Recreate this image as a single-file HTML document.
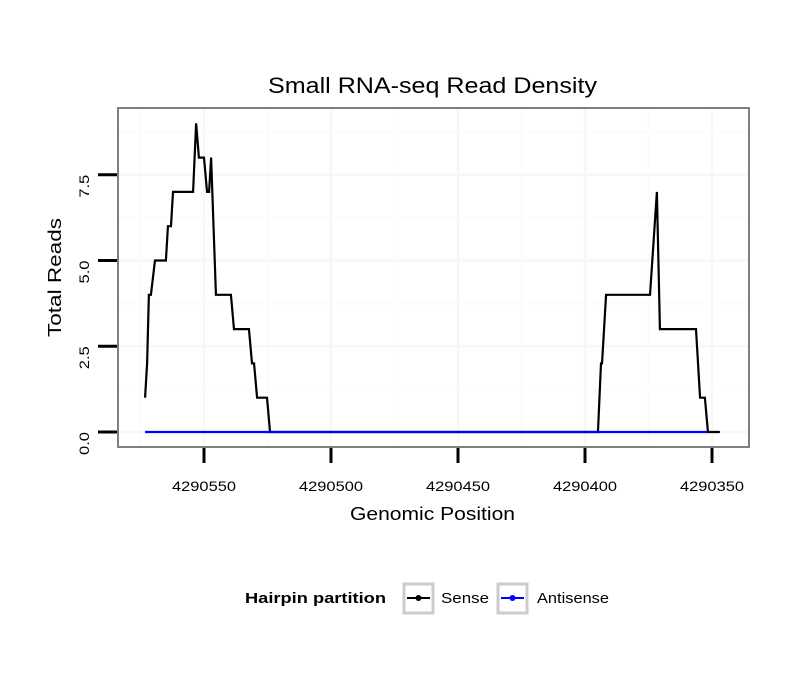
<!DOCTYPE html>
<html><head><meta charset="utf-8"><style>
body{margin:0;background:#fff;font-family:"Liberation Sans",sans-serif;}
</style></head><body>
<svg id="chart" width="810" height="690" xmlns="http://www.w3.org/2000/svg">
<rect width="810" height="690" fill="#fff"/>
<text x="268" y="93" font-size="22" textLength="329" lengthAdjust="spacingAndGlyphs">Small RNA-seq Read Density</text>
<g id="grid"></g>
<g id="series"></g>
<rect x="118" y="108" width="631" height="339" fill="none" stroke="#7f7f7f" stroke-width="2"/>
<g id="axes"></g>
<text x="350" y="520" font-size="18" textLength="165" lengthAdjust="spacingAndGlyphs">Genomic Position</text>
<text transform="translate(61,337) rotate(-90)" font-size="18" textLength="119" lengthAdjust="spacingAndGlyphs">Total Reads</text>
<g>
<text x="245" y="603" font-size="15" font-weight="bold" textLength="141" lengthAdjust="spacingAndGlyphs">Hairpin partition</text>
<g>
<rect x="404" y="584" width="29" height="29" fill="#fff" stroke="#ccc" stroke-width="3"/>
<line x1="407" y1="598" x2="430" y2="598" stroke="#000" stroke-width="2"/>
<circle cx="418.5" cy="598" r="3" fill="#000"/>
<text x="441" y="603" font-size="15" textLength="48" lengthAdjust="spacingAndGlyphs">Sense</text></g>
<g>
<rect x="498" y="584" width="29" height="29" fill="#fff" stroke="#ccc" stroke-width="3"/>
<line x1="501" y1="598" x2="524" y2="598" stroke="#00f" stroke-width="2"/>
<circle cx="512.5" cy="598" r="3" fill="#00f"/>
<text x="537" y="603" font-size="15" textLength="72" lengthAdjust="spacingAndGlyphs">Antisense</text></g>
</g>
</svg>
<script>
const xTicks=[4290550,4290500,4290450,4290400,4290350];
const yTicks=[0,2.5,5.0,7.5];
const yTickLabels=["0.0","2.5","5.0","7.5"];
const senseX=[4290573.2,4290572.4,4290571.7,4290570.9,4290569.3,4290565.0,4290564.2,4290563.0,4290562.2,4290554.3,4290553.1,4290552.0,4290550,4290548.8,4290548,4290547.2,4290545.3,4290539.4,4290538.2,4290532.3,4290531.1,4290530.3,4290529.1,4290525.2,4290524,4290394.9,4290393.7,4290393.3,4290391.7,4290374.4,4290371.7,4290370.5,4290356.3,4290354.7,4290352.8,4290351.6,4290346.9];
const senseY=[1,2,4,4,5,5,6,6,7,7,9,8,8,7,7,8,4,4,3,3,2,2,1,1,0,0,2,2,4,4,7,3,3,1,1,0,0];
const antisenseX=[4290573.2,4290351.6];
const antisenseY=[0,0];
const NS="http://www.w3.org/2000/svg";
const xs=v=>204+(4290550-v)*2.54;
const ys=v=>432-v*34.3;
function mk(t,a,p){const e=document.createElementNS(NS,t);for(const k in a)e.setAttribute(k,a[k]);p.appendChild(e);return e;}
const grid=document.getElementById('grid'),axes=document.getElementById('axes'),series=document.getElementById('series');
mk('rect',{x:118,y:108,width:631,height:339,fill:'#fff'},grid);
for(let i=0;i<xTicks.length+1;i++){const v=xTicks[0]+25-50*i;const x=xs(v);if(x>118&&x<749){const l=mk('line',{x1:x,x2:x,y1:108,y2:447,stroke:'#fbfbfb','stroke-width':1.5},grid);

}}
for(let i=0;i<yTicks.length;i++){const y=ys(yTicks[i]+1.25);if(y>108){const l=mk('line',{x1:118,x2:749,y1:y,y2:y,stroke:'#fbfbfb','stroke-width':1.5},grid);

}}
xTicks.forEach(v=>{const x=xs(v);
const g=mk('line',{x1:x,x2:x,y1:108,y2:447,stroke:'#f7f7f7','stroke-width':2.5},grid);


const t=mk('line',{x1:x,x2:x,y1:448,y2:463,stroke:'#000','stroke-width':3},axes);


const tx=mk('text',{x:x,y:491,'font-size':14,'text-anchor':'middle',textLength:64,lengthAdjust:'spacingAndGlyphs'},axes);tx.textContent=v;

});
yTicks.forEach((v,i)=>{const y=ys(v);
const g=mk('line',{x1:118,x2:749,y1:y,y2:y,stroke:'#f7f7f7','stroke-width':2.5},grid);


const t=mk('line',{x1:98,x2:117,y1:y,y2:y,stroke:'#000','stroke-width':3},axes);


const tx=mk('text',{transform:`translate(89,${y+23}) rotate(-90)`,'font-size':14,textLength:23,lengthAdjust:'spacingAndGlyphs'},axes);tx.textContent=yTickLabels[i];

});
function line(X,Y,c,name){const p=mk('polyline',{points:X.map((v,i)=>xs(v)+','+ys(Y[i])).join(' '),fill:'none',stroke:c,'stroke-width':2.2,'stroke-linejoin':'miter'},series);

}
line(senseX,senseY,'#000','sense-line');
line(antisenseX,antisenseY,'#00f','antisense-line');
</script>
</body></html>
